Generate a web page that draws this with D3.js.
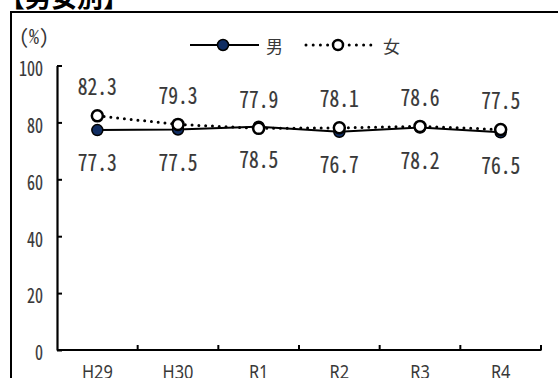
<!DOCTYPE html>
<html>
<head>
<meta charset="utf-8">
<script src="https://cdn.jsdelivr.net/npm/d3@7"></script>
<style>
  html, body { margin: 0; padding: 0; background: #fff; }
  svg { display: block; }
  .num { font-feature-settings: "hwid" 1; }
</style>
</head>
<body>
<svg id="chart" width="558" height="378"></svg>
<script>
// Fiscal years (Heisei / Reiwa) and rates (%) by sex
const years = ["H29", "H30", "R1", "R2", "R3", "R4"];
const male = [77.3, 77.5, 78.5, 76.7, 78.2, 76.5];
const female = [82.3, 79.3, 77.9, 78.1, 78.6, 77.5];
const yTicks = [0, 20, 40, 60, 80, 100];
const seriesNames = ["男", "女"];

const svg = d3.select("#chart");

const cjkFont = "'Noto Sans CJK JP', 'Noto Sans', sans-serif";
const textColor = "#383838";
const navy = "#102d62";

// heading
svg.append("text")
  .attr("x", -1).attr("y", 7)
  .attr("font-family", cjkFont).attr("font-weight", 700)
  .attr("font-size", 26).attr("fill", "#000")
  .text("【男女別】");

// framing box
svg.append("rect")
  .attr("x", 11).attr("y", 12)
  .attr("width", 600).attr("height", 400)
  .attr("fill", "none").attr("stroke", "#000").attr("stroke-width", 2);

const x = d3.scaleBand().domain(years).range([57, 541]);
const y = d3.scaleLinear().domain([0, 100]).range([350, 65.5]);
const cx = d => x(d) + x.bandwidth() / 2;

// condensed half-width numerals
function ntext(g, tx, ty, str, size, anchor, sx) {
  return g.append("text")
    .attr("class", "num")
    .attr("transform", `translate(${tx},${ty}) scale(${sx},1)`)
    .attr("text-anchor", anchor)
    .attr("dominant-baseline", "central")
    .attr("font-family", cjkFont)
    .attr("font-size", size)
    .attr("fill", textColor)
    .attr("stroke", textColor).attr("stroke-width", 0.2)
    .text(str);
}

// y axis
const yAxis = d3.axisLeft(y).tickValues(yTicks).tickSize(-5).tickSizeOuter(0).tickPadding(14);
const gy = svg.append("g").attr("transform", "translate(57,0)").call(yAxis);
gy.select(".domain").attr("stroke", "#000").attr("stroke-width", 2.2);
gy.selectAll(".tick line").attr("stroke", "#000").attr("stroke-width", 2);
gy.selectAll(".tick text").remove();
yTicks.forEach(v => ntext(svg, 43, y(v) + 1.5, String(v), 20, "end", 0.8));

// x axis: baseline with ticks between categories
const gx = svg.append("g");
gx.append("line")
  .attr("x1", 57).attr("x2", 541.5).attr("y1", y(0)).attr("y2", y(0))
  .attr("stroke", "#000").attr("stroke-width", 2.2);
const bounds = years.map(d => x(d)).concat([x.range()[1]]).slice(1);
gx.selectAll("line.tk").data(bounds).join("line").attr("class", "tk")
  .attr("x1", d => d).attr("x2", d => d)
  .attr("y1", y(0)).attr("y2", y(0) - 5)
  .attr("stroke", "#000").attr("stroke-width", 2);
years.forEach(d => {
  svg.append("text")
    .attr("transform", `translate(${cx(d)},370.5) scale(0.82,1)`)
    .attr("text-anchor", "middle").attr("dominant-baseline", "central")
    .attr("font-family", "'Noto Sans', sans-serif").attr("font-size", 20)
    .attr("fill", textColor).text(d);
});

// unit
svg.append("text")
  .attr("class", "num")
  .attr("x", 19).attr("y", 35).attr("dominant-baseline", "central")
  .attr("font-family", cjkFont).attr("font-size", 20)
  .attr("fill", textColor).text("(%)");

// series
const line = d3.line().x((d, i) => cx(years[i])).y(d => y(d));

svg.append("path").datum(male).attr("d", line)
  .attr("fill", "none").attr("stroke", "#000").attr("stroke-width", 2);
svg.selectAll("circle.m").data(male).join("circle").attr("class", "m")
  .attr("cx", (d, i) => cx(years[i])).attr("cy", d => y(d)).attr("r", 5.5)
  .attr("fill", navy).attr("stroke", "#000").attr("stroke-width", 1.5);

svg.append("path").datum(female).attr("d", line)
  .attr("fill", "none").attr("stroke", "#000").attr("stroke-width", 3)
  .attr("stroke-linecap", "round").attr("stroke-dasharray", "0,6.8");
svg.selectAll("circle.f").data(female).join("circle").attr("class", "f")
  .attr("cx", (d, i) => cx(years[i])).attr("cy", d => y(d)).attr("r", 5.5)
  .attr("fill", "#fff").attr("stroke", "#000").attr("stroke-width", 2.5);

// value labels
female.forEach((v, i) => ntext(svg, cx(years[i]), y(v) - 31, v.toFixed(1), 23, "middle", 0.85));
male.forEach((v, i) => ntext(svg, cx(years[i]), y(v) + 31, v.toFixed(1), 23, "middle", 0.85));

// legend
const lg = svg.append("g");
lg.append("line").attr("x1", 190).attr("x2", 259).attr("y1", 45).attr("y2", 45)
  .attr("stroke", "#000").attr("stroke-width", 2);
lg.append("circle").attr("cx", 223).attr("cy", 45).attr("r", 5.5)
  .attr("fill", navy).attr("stroke", "#000").attr("stroke-width", 1.5);
lg.append("text").attr("x", 266).attr("y", 45).attr("dominant-baseline", "central")
  .attr("font-family", cjkFont).attr("font-size", 17).attr("fill", textColor).text(seriesNames[0]);
lg.append("line").attr("x1", 306).attr("x2", 371).attr("y1", 45).attr("y2", 45)
  .attr("stroke", "#000").attr("stroke-width", 3)
  .attr("stroke-linecap", "round").attr("stroke-dasharray", "0,7.2");
lg.append("circle").attr("cx", 338).attr("cy", 45).attr("r", 5)
  .attr("fill", "#fff").attr("stroke", "#000").attr("stroke-width", 2.5);
lg.append("text").attr("x", 383).attr("y", 45).attr("dominant-baseline", "central")
  .attr("font-family", cjkFont).attr("font-size", 17).attr("fill", textColor).text(seriesNames[1]);
</script>
</body>
</html>
